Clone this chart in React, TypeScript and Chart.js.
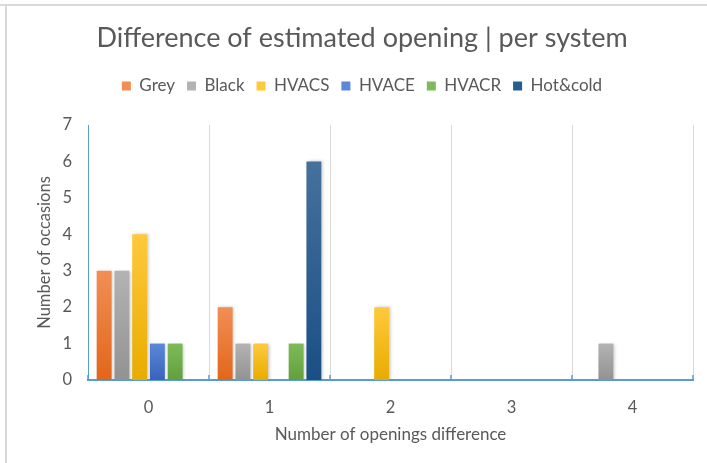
import React, { useEffect, useRef } from "react";
import { Chart, registerables } from "chart.js";

Chart.register(...registerables);

// ---- data ----
const categories = ["0", "1", "2", "3", "4"];
const seriesNames = ["Grey", "Black", "HVACS", "HVACE", "HVACR", "Hot&cold"];
const greyValues = [3, 2, 0, 0, 0];
const blackValues = [3, 1, 0, 0, 1];
const hvacsValues = [4, 1, 2, 0, 0];
const hvaceValues = [1, 0, 0, 0, 0];
const hvacrValues = [1, 1, 0, 0, 0];
const hotColdValues = [0, 6, 0, 0, 0];
const yMin = 0;
const yMax = 7;
const yStep = 1;

const titleText = "Difference of estimated opening | per system";
const xTitle = "Number of openings difference";
const yTitle = "Number of occasions";

// ---- styles ----
const solidColors = ["#ED7D31", "#A5A5A5", "#FFC000", "#4472C4", "#70AD47", "#255E91"];
const topColors = ["#F28E55", "#B3B3B3", "#FFC93C", "#5B88D8", "#7EBA5A", "#46719C"];
const bottomColors = ["#E2661A", "#929292", "#E8AC00", "#3763BC", "#62A03C", "#1A4F85"];
const textColor = "#595959";
const axisBlue = "#5B9BD5";
const gridColor = "#d9d9d9";
const FONT = "Lato, Carlito, 'Open Sans', sans-serif";
const LEGEND_EXTRA = 20.5;

const seriesValues = [greyValues, blackValues, hvacsValues, hvaceValues, hvacrValues, hotColdValues];

const makeFill = (i: number) => (ctx: any) => {
  const solid = solidColors[i];
  if (ctx.type !== "data") return solid;
  const chart = ctx.chart;
  const ys = chart.scales && chart.scales.y;
  if (!ys || !ctx.parsed) return solid;
  const v = ctx.parsed.y || 0;
  const top = ys.getPixelForValue(v);
  const bottom = ys.getPixelForValue(0);
  if (!isFinite(top) || !isFinite(bottom) || top === bottom) return solid;
  const g = chart.ctx.createLinearGradient(0, top, 0, bottom);
  g.addColorStop(0, topColors[i]);
  g.addColorStop(1, bottomColors[i]);
  return g;
};

const legendSpacer = {
  id: "legendSpacer",
  beforeLayout(chart: any) {
    const lg = chart.legend;
    if (lg && !lg._spacerPatched) {
      const orig = lg.fit.bind(lg);
      lg.fit = function () {
        orig();
        this.height += LEGEND_EXTRA;
      };
      lg._spacerPatched = true;
    }
  },
};

const barShadow = {
  id: "barShadow",
  beforeDatasetsDraw(chart: any) {
    const c = chart.ctx;
    c.save();
    c.shadowColor = "rgba(0,0,0,0.22)";
    c.shadowBlur = 3;
    c.shadowOffsetX = 1.5;
    c.shadowOffsetY = 0;
  },
  afterDatasetsDraw(chart: any) {
    chart.ctx.restore();
  },
};

const axisTicks = {
  id: "axisTicks",
  afterDraw(chart: any) {
    const xs = chart.scales.x;
    const ys = chart.scales.y;
    const c = chart.ctx;
    const base = ys.getPixelForValue(0);
    const step = xs.getPixelForValue(1) - xs.getPixelForValue(0);
    const start = xs.getPixelForValue(0) - step / 2;
    c.save();
    c.strokeStyle = axisBlue;
    c.lineWidth = 1.5;
    c.beginPath();
    for (let i = 0; i <= categories.length; i++) {
      const px = Math.round(start + i * step);
      c.moveTo(px, base);
      c.lineTo(px, base - 5);
    }
    c.stroke();
    c.restore();
  },
};

export default function App() {
  const canvasRef = useRef<HTMLCanvasElement | null>(null);

  useEffect(() => {
    if (!canvasRef.current) return;
    const chart = new Chart(canvasRef.current, {
      type: "bar",
      data: {
        labels: categories,
        datasets: seriesNames.map((name, i) => ({
          label: name,
          data: seriesValues[i],
          backgroundColor: makeFill(i),
          borderWidth: 0,
          categoryPercentage: 0.88,
          barPercentage: 0.84,
        })),
      },
      options: {
        animation: false,
        responsive: false,
        maintainAspectRatio: false,
        devicePixelRatio: 1,
        layout: { padding: 0 },
        plugins: {
          tooltip: { enabled: false },
          title: {
            display: true,
            text: titleText,
            color: textColor,
            font: { family: FONT, size: 27, weight: "normal" },
            padding: { top: 16, bottom: 11.1 },
          },
          legend: {
            display: true,
            position: "top",
            labels: {
              boxWidth: 9,
              boxHeight: 9,
              padding: 12,
              color: textColor,
              font: { family: FONT, size: 17 },
            },
          },
        },
        scales: {
          x: {
            type: "category",
            grid: { display: true, color: gridColor, lineWidth: 1, drawTicks: false, offset: true },
            border: { display: true, color: axisBlue, width: 2 },
            ticks: { color: textColor, font: { family: FONT, size: 16.5 }, padding: 18 },
            title: {
              display: true,
              text: xTitle,
              color: textColor,
              font: { family: FONT, size: 17 },
              padding: { top: 0, bottom: 18 },
            },
            afterFit: (s: any) => {
              s.height = 83;
            },
          },
          y: {
            min: yMin,
            max: yMax,
            grid: { display: false, drawTicks: false },
            border: { display: true, color: axisBlue, width: 1 },
            ticks: { stepSize: yStep, color: textColor, font: { family: FONT, size: 16.5 }, padding: 16 },
            title: {
              display: true,
              text: yTitle,
              color: textColor,
              font: { family: FONT, size: 16.5 },
              padding: { top: 28, bottom: 0 },
            },
            afterFit: (s: any) => {
              s.width = 81;
            },
          },
          yRightSpace: {
            type: "linear",
            position: "right",
            display: true,
            grid: { display: false, drawTicks: false },
            border: { display: false },
            ticks: { display: false },
            afterFit: (s: any) => {
              s.width = 24;
            },
          },
        },
      },
      plugins: [legendSpacer, barShadow, axisTicks],
    } as any);
    let alive = true;
    if ((document as any).fonts && (document as any).fonts.ready) {
      (document as any).fonts.ready.then(() => {
        if (alive) chart.update();
      });
    }
    return () => {
      alive = false;
      chart.destroy();
    };
  }, []);

  return (
    <div
      style={{
        position: "absolute",
        left: 0,
        top: 0,
        width: 707,
        height: 463,
        overflow: "hidden",
        background: "#ffffff",
      }}
    >
      <div style={{ position: "absolute", left: 0, top: 4, width: 707, height: 2, background: gridColor }} />
      <div style={{ position: "absolute", left: 5, top: 6, width: 2, height: 457, background: gridColor }} />
      <div style={{ position: "absolute", left: 7, top: 6, width: 710, height: 457 }}>
        <canvas ref={canvasRef} width={710} height={457} style={{ width: 710, height: 457, display: "block" }} />
      </div>
    </div>
  );
}
